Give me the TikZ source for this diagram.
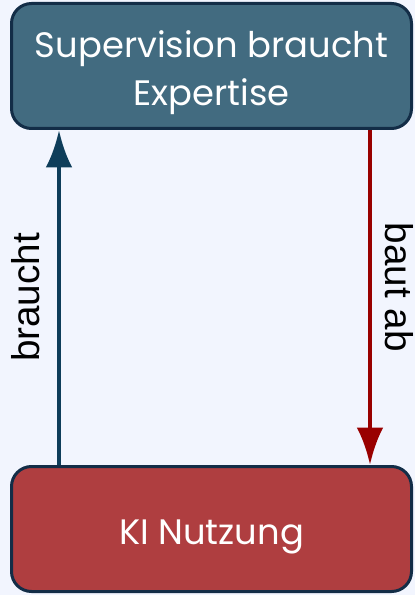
\documentclass[tikz,border=0pt]{standalone}
\usepackage{fontspec}
\setmainfont{Liberation Sans}
\newfontfamily\boxfont{Poppins}
\usetikzlibrary{arrows.meta}
\definecolor{hintergrund}{HTML}{F2F5FE}
\definecolor{rahmen}{HTML}{132D47}
\definecolor{blaufill}{HTML}{426B80}
\definecolor{rotfill}{HTML}{AF3E40}
\definecolor{blaupfeil}{HTML}{0E3D5A}
\definecolor{rotpfeil}{HTML}{990000}
\newcommand{\oben}{\rule{0pt}{30pt}}
\begin{document}
\begin{tikzpicture}[x=0.75pt,y=-0.75pt,
    box/.style={draw=rahmen, line width=2.25pt, rounded corners=15pt,
        minimum width=300pt, minimum height=93.75pt, text=white,
        align=center, font=\boxfont\fontsize{26.5}{36}\selectfont},
    pfeil/.style={line width=3.5pt, -{Latex[length=28pt,width=20pt]}},
    beschriftung/.style={font=\fontsize{29}{34}\selectfont}]
    \fill[hintergrund] (0,0) rectangle (415,595);
    \useasboundingbox (0,0) rectangle (415,595);
    \node[box, fill=blaufill] (supervision) at (211.5,66) {\oben Supervision braucht\\Expertise};
    \node[box, fill=rotfill] (nutzung) at (211.5,529) {\oben KI Nutzung};
    \draw[pfeil, blaupfeil] (nutzung.north -| 59,0) -- (supervision.south -| 59,0)
        node[beschriftung, midway, rotate=90, yshift=25pt, text=black] {braucht};
    \draw[pfeil, rotpfeil] (supervision.south -| 370,0) -- (nutzung.north -| 370,0)
        node[beschriftung, pos=0.47, rotate=-90, yshift=22pt, text=black] {baut ab};
\end{tikzpicture}
\end{document}
